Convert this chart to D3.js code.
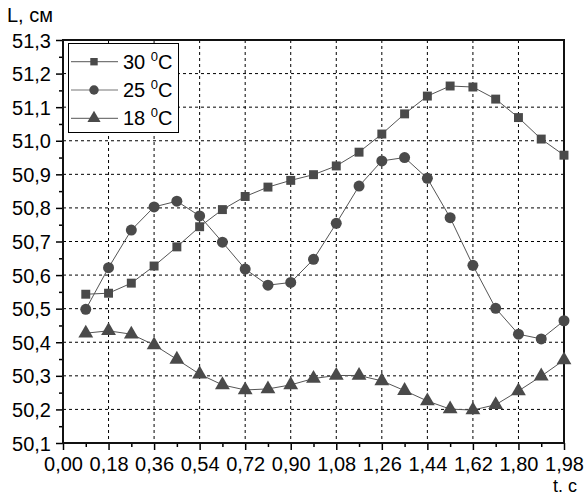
<!DOCTYPE html>
<html><head><meta charset="utf-8">
<script src="https://cdn.jsdelivr.net/npm/d3@7/dist/d3.min.js"></script>
<style>body{margin:0;background:#fff}svg{display:block}text{font-family:"Liberation Sans",Arial,sans-serif}</style>
</head><body><svg id="c" width="587" height="497"></svg>
<script>
const times = [0.09,0.18,0.27,0.36,0.45,0.54,0.63,0.72,0.81,0.90,0.99,1.08,1.17,1.26,1.35,1.44,1.53,1.62,1.71,1.80,1.89,1.98];
const s30 = [50.543,50.546,50.576,50.627,50.684,50.744,50.795,50.834,50.862,50.882,50.899,50.925,50.966,51.020,51.080,51.133,51.163,51.160,51.124,51.069,51.005,50.957];
const s25 = [50.498,50.622,50.734,50.803,50.820,50.776,50.698,50.618,50.570,50.578,50.647,50.754,50.865,50.940,50.950,50.888,50.771,50.629,50.501,50.424,50.410,50.464];
const s18 = [50.427,50.434,50.424,50.392,50.349,50.305,50.273,50.258,50.261,50.273,50.292,50.301,50.301,50.285,50.256,50.225,50.201,50.198,50.214,50.255,50.299,50.347];
const xTicks = [0,0.18,0.36,0.54,0.72,0.90,1.08,1.26,1.44,1.62,1.80,1.98];
const yTicks = [50.1,50.2,50.3,50.4,50.5,50.6,50.7,50.8,50.9,51.0,51.1,51.2,51.3];
const seriesNames = ["30","25","18"];
const markerTypes = [d3.symbolSquare, d3.symbolCircle, d3.symbolTriangle];

const svg = d3.select("#c");
const L=63,R=564,T=40,B=443;
const x = d3.scaleLinear().domain([0,1.98]).range([L,R]);
const y = d3.scaleLinear().domain([50.1,51.3]).range([B,T]);
const fmtX = v => v.toFixed(2).replace(".",",");
const fmtY = v => v.toFixed(1).replace(".",",");

// grid
const g = svg.append("g");
xTicks.slice(1,-1).forEach(t=>g.append("line").attr("x1",x(t)).attr("x2",x(t)).attr("y1",T).attr("y2",B)
  .attr("stroke","#000").attr("stroke-width",1).attr("stroke-dasharray","3,3"));
yTicks.slice(1,-1).forEach(t=>g.append("line").attr("y1",y(t)).attr("y2",y(t)).attr("x1",L).attr("x2",R)
  .attr("stroke","#000").attr("stroke-width",1).attr("stroke-dasharray","3,3"));

// axes
const xAx = svg.append("g").attr("transform",`translate(0,${B})`)
  .call(d3.axisBottom(x).tickValues(xTicks).tickFormat(fmtX).tickSize(7).tickSizeOuter(0));
const xMinor = svg.append("g").attr("transform",`translate(0,${B})`)
  .call(d3.axisBottom(x).tickValues(times.filter((t,i)=>i%2===0)).tickFormat("").tickSize(4).tickSizeOuter(0));
const yAx = svg.append("g").attr("transform",`translate(${L},0)`)
  .call(d3.axisLeft(y).tickValues(yTicks).tickFormat(fmtY).tickSize(7).tickSizeOuter(0));
const yMinor = svg.append("g").attr("transform",`translate(${L},0)`)
  .call(d3.axisLeft(y).tickValues(yTicks.slice(0,-1).map(v=>v+0.05)).tickFormat("").tickSize(4).tickSizeOuter(0));
[xAx,xMinor,yAx,yMinor].forEach(a=>{a.selectAll("path").remove();a.selectAll("line").attr("stroke","#000").attr("stroke-width",1.5);});
xAx.selectAll("text").attr("font-size",20).attr("fill","#000").attr("dy",0).attr("y",28);
yAx.selectAll("text").attr("font-size",20).attr("fill","#000").attr("x",-12).attr("dy","0.35em");

// frame
svg.append("rect").attr("x",L).attr("y",T).attr("width",R-L).attr("height",B-T)
  .attr("fill","none").attr("stroke","#111").attr("stroke-width",2);

// series
const data=[s30,s25,s18];
const sizes=[80,95,95];
const lsizes=[55,70,75];
const line = d3.line().x((d,i)=>x(times[i])).y(d=>y(d));
data.forEach((s,k)=>{
  svg.append("path").attr("d",line(s)).attr("fill","none").attr("stroke","#555").attr("stroke-width",1);
  svg.append("g").selectAll("path").data(s).join("path")
    .attr("transform",(d,i)=>`translate(${x(times[i])},${y(d)})`)
    .attr("d",d3.symbol().type(markerTypes[k]).size(sizes[k])).attr("fill","#4a4a4a");
});

// legend
const lg = svg.append("g");
lg.append("rect").attr("x",68.5).attr("y",43.5).attr("width",110).attr("height",89)
  .attr("fill","#fff").attr("stroke","#000").attr("stroke-width",1);
seriesNames.forEach((n,k)=>{
  const yy = 61.7 + k*28.3;
  lg.append("line").attr("x1",71).attr("x2",118).attr("y1",yy).attr("y2",yy).attr("stroke","#777").attr("stroke-width",1.2);
  lg.append("path").attr("transform",`translate(94,${yy})`).attr("d",d3.symbol().type(markerTypes[k]).size(lsizes[k])).attr("fill","#4a4a4a");
  const t = lg.append("text").attr("x",123).attr("y",yy+7).attr("font-size",20).attr("fill","#000");
  t.append("tspan").text(n+" ");
  t.append("tspan").attr("font-size",13).attr("dy",-8).text("0");
  t.append("tspan").attr("dy",8).text("C");
});

// axis titles
svg.append("text").attr("x",7).attr("y",22).attr("font-size",20).attr("fill","#000").text("L, см");
svg.append("text").attr("x",577).attr("y",492).attr("text-anchor","end").attr("font-size",18).attr("fill","#000").text("t. c");
</script></body></html>
